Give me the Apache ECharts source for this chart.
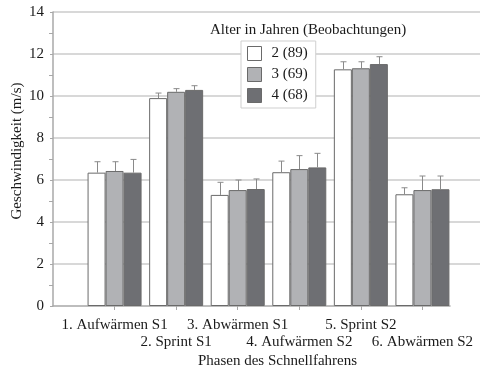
<!DOCTYPE html>
<html>
<head>
<meta charset="utf-8">
<script src="https://cdn.jsdelivr.net/npm/echarts@6/dist/echarts.min.js"></script>
<style>
  html, body { margin: 0; padding: 0; background: #fff; }
  #chart { width: 480px; height: 367px; }
</style>
</head>
<body>
<div id="chart"></div>
<script>
// Phases of the speed ride and mean speed (m/s) per age group
const phases = ['1. Aufwärmen S1', '2. Sprint S1', '3. Abwärmen S1', '4. Aufwärmen S2', '5. Sprint S2', '6. Abwärmen S2'];
const groupNames = ['2 (89)', '3 (69)', '4 (68)'];

const meanAge2 = [6.35, 9.90, 5.29, 6.37, 11.27, 5.32];
const meanAge3 = [6.43, 10.20, 5.52, 6.52, 11.32, 5.52];
const meanAge4 = [6.35, 10.29, 5.57, 6.60, 11.52, 5.56];

// upper error (standard deviation) per bar
const errAge2 = [0.52, 0.24, 0.60, 0.53, 0.36, 0.31];
const errAge3 = [0.44, 0.15, 0.48, 0.64, 0.31, 0.67];
const errAge4 = [0.63, 0.20, 0.48, 0.67, 0.35, 0.63];

const yTicks = { min: 0, max: 14, interval: 2 };

const font = 'Liberation Serif';
const textColor = '#1a1a1a';
const gridColor = '#cbcbcb';
const axisColor = '#a8a8a8';
const barColors = ['#ffffff', '#b1b2b5', '#6e6f73'];
const edgeColor = '#6a6a6a';
const barWidth = 18;

// padded category list so the groups sit away from the y axis
const categories = [''].concat(phases, ['']);

const means = [meanAge2, meanAge3, meanAge4];
const errs = [errAge2, errAge3, errAge4];

const barSeries = means.map((m, k) => ({
  name: groupNames[k],
  type: 'bar',
  barWidth: barWidth,
  barGap: '0%',
  data: phases.map((p, i) => [p, m[i]]),
  itemStyle: { color: barColors[k], borderColor: edgeColor, borderWidth: 1 },
  z: 2
}));

const errorSeries = means.map((m, k) => ({
  type: 'custom',
  name: groupNames[k] + ' sd',
  data: phases.map((p, i) => [p, m[i], m[i] + errs[k][i]]),
  encode: { x: 0, y: [1, 2] },
  z: 3,
  silent: true,
  renderItem: function (params, api) {
    const base = api.coord([api.value(0), api.value(1)]);
    const top = api.coord([api.value(0), api.value(2)]);
    const x = Math.round(base[0] + (k - 1) * barWidth) + 0.5;
    const style = { stroke: '#8a8a8a', lineWidth: 1 };
    return {
      type: 'group',
      children: [
        { type: 'line', shape: { x1: x, y1: base[1], x2: x, y2: top[1] }, style: style },
        { type: 'line', shape: { x1: x - 3, y1: top[1], x2: x + 3, y2: top[1] }, style: style }
      ]
    };
  }
}));

const chart = echarts.init(document.getElementById('chart'), null, { renderer: 'canvas' });

chart.setOption({
  animation: false,
  backgroundColor: '#ffffff',
  textStyle: { fontFamily: font, color: textColor },
  title: {
    text: 'Alter in Jahren (Beobachtungen)',
    left: 210,
    top: 23,
    padding: [0, 0, 0, 0],
    textStyle: { fontFamily: font, fontSize: 15, fontWeight: 'normal', color: textColor }
  },
  legend: {
    data: groupNames,
    orient: 'vertical',
    left: 241,
    top: 41,
    padding: [5, 8, 5, 6],
    itemWidth: 14,
    itemHeight: 14,
    itemGap: 6,
    icon: 'rect',
    backgroundColor: '#ffffff',
    borderColor: '#cfcfcf',
    borderWidth: 1,
    itemStyle: { borderColor: edgeColor, borderWidth: 1 },
    textStyle: { fontFamily: font, fontSize: 15, color: textColor, padding: [0, 0, 0, 5] }
  },
  grid: [
    { left: 53, right: -4, top: 12, bottom: 61, containLabel: false, outerBoundsMode: 'none' },
    { left: 53, right: 30, top: 12, bottom: 61, containLabel: false, outerBoundsMode: 'none' }
  ],
  xAxis: [
    {
      type: 'category',
      gridIndex: 0,
      data: categories,
      boundaryGap: false,
      axisLine: { show: false },
      axisTick: {
        show: true,
        length: 4,
        interval: function (i) { return i > 0 && i < categories.length - 1; },
        lineStyle: { color: axisColor, width: 1 }
      },
      axisLabel: {
        interval: 0,
        margin: 11,
        fontFamily: font,
        fontSize: 15,
        lineHeight: 17,
        color: textColor,
        formatter: function (v, i) { return i % 2 === 0 ? '\n' + v : v; }
      },
      splitLine: { show: false },
      name: 'Phasen des Schnellfahrens',
      nameLocation: 'middle',
      nameGap: 48,
      nameMoveOverlap: false,
      nameTextStyle: { fontFamily: font, fontSize: 15, color: textColor, padding: [0, 0, 0, 18] }
    },
    {
      type: 'value',
      gridIndex: 1,
      min: 0,
      max: 1,
      axisLine: { show: true, lineStyle: { color: axisColor, width: 1.5 } },
      axisTick: { show: false },
      axisLabel: { show: false },
      splitLine: { show: false }
    }
  ],
  yAxis: [
    {
      type: 'value',
      gridIndex: 0,
      min: yTicks.min,
      max: yTicks.max,
      interval: yTicks.interval,
      axisLine: { show: true, lineStyle: { color: axisColor, width: 1.5 } },
      axisTick: { show: true, length: 3, lineStyle: { color: axisColor } },
      minorTick: { show: true, splitNumber: 2, length: 4, lineStyle: { color: axisColor } },
      axisLabel: { margin: 9, fontFamily: font, fontSize: 15, color: textColor },
      splitLine: { show: true, showMinLine: false, lineStyle: { color: gridColor, width: 1.5 } },
      name: 'Geschwindigkeit (m/s)',
      nameLocation: 'middle',
      nameGap: 28,
      nameRotate: 90,
      nameMoveOverlap: false,
      nameTextStyle: { fontFamily: font, fontSize: 15, color: textColor, padding: [0, 0, 0, 16] }
    },
    {
      type: 'value',
      gridIndex: 1,
      show: false
    }
  ],
  series: barSeries.concat(errorSeries)
});
</script>
</body>
</html>
